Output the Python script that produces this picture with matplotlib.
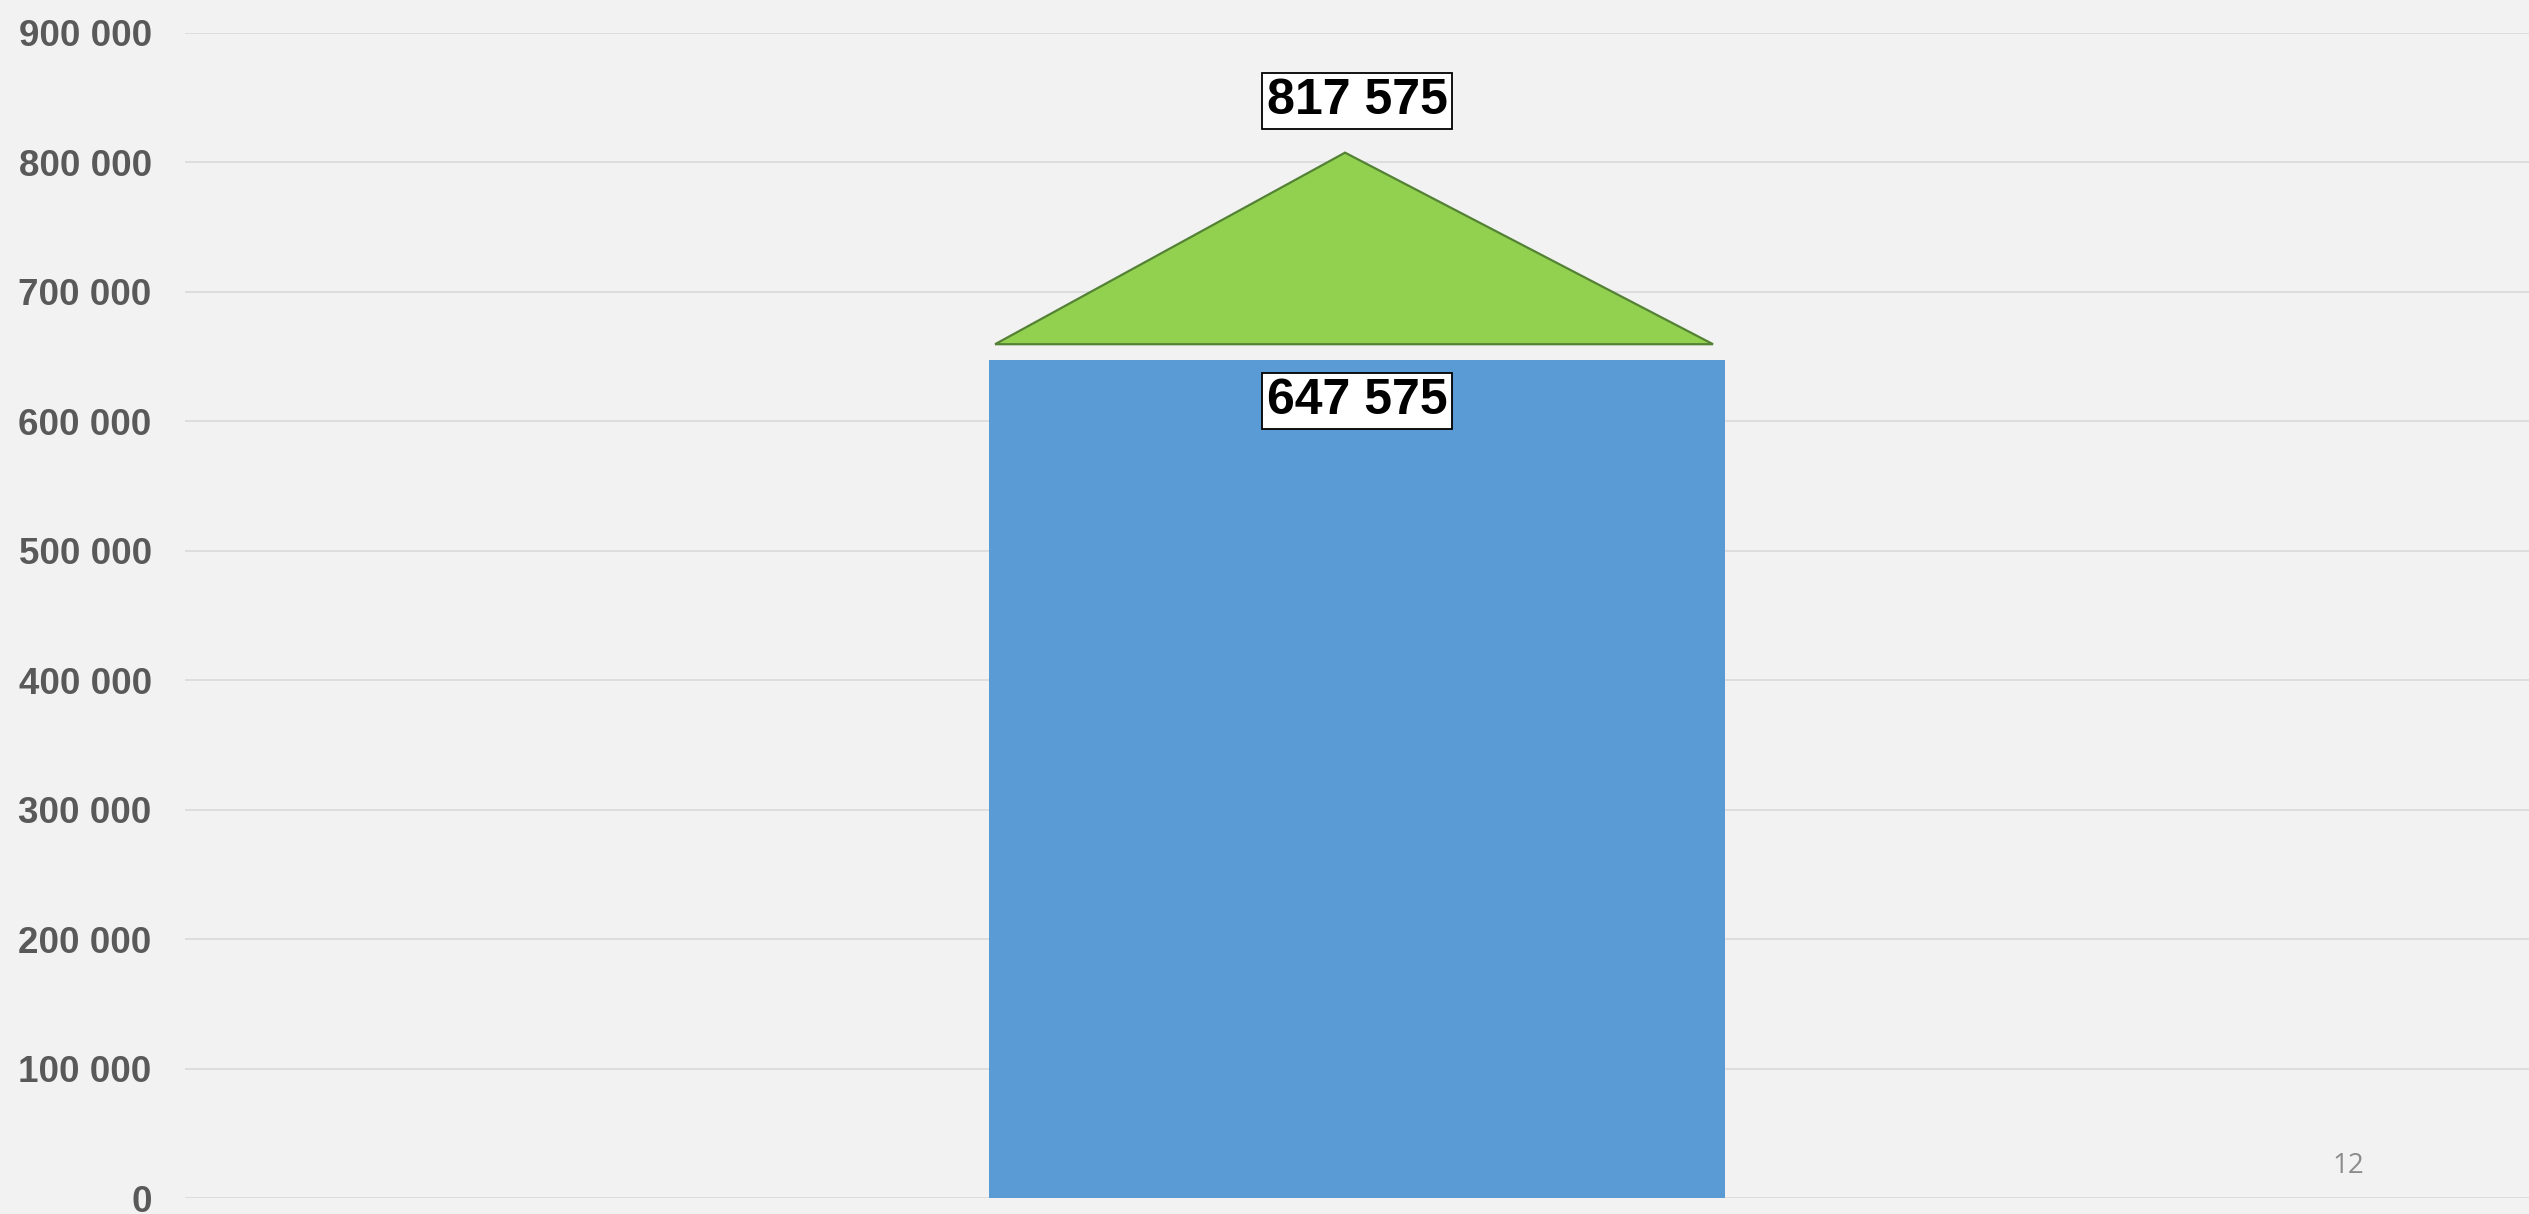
import matplotlib
matplotlib.use("Agg")
import matplotlib.pyplot as plt
from matplotlib.patches import Polygon

# ---- data ----
categories = ["Total"]
base_values = [647575]
total_values = [817575]
y_ticks = [0, 100000, 200000, 300000, 400000, 500000, 600000, 700000, 800000, 900000]
page_number = "12"

def fmt(v):
    return f"{v:,}".replace(",", " ")

W, H, DPI = 2529, 1214, 100
fig = plt.figure(figsize=(W / DPI, H / DPI), dpi=DPI, facecolor="#F2F2F2")
ax = fig.add_axes([185 / W, 16 / H, (W - 185) / W, (1198 - 33) / H])
ax.set_facecolor("#F2F2F2")

x = list(range(len(categories)))
bar_w = 0.314
ax.bar(x, base_values, width=bar_w, color="#5B9BD5", zorder=2)

for xi, b, t in zip(x, base_values, total_values):
    # increase shape (triangle) sitting above the bar
    base_y = b + 12000
    apex_y = t - 10000
    tri = Polygon([[xi - 0.1544, base_y], [xi + 0.1519, base_y], [xi - 0.0051, apex_y]],
                  closed=True, facecolor="#92D050", edgecolor="#548235",
                  linewidth=1.6, zorder=3)
    ax.add_patch(tri)
    box = dict(boxstyle="square,pad=0.1", facecolor="white", edgecolor="black", linewidth=1.3)
    ax.text(xi, t + 30000, fmt(t), ha="center", va="center", fontsize=36,
            fontweight="bold", family="Liberation Sans", color="black", bbox=box, zorder=5)
    ax.text(xi, b - 31500, fmt(b), ha="center", va="center", fontsize=36,
            fontweight="bold", family="Liberation Sans", color="black", bbox=box, zorder=5)

ax.set_xlim(-0.5, 0.5)
ax.set_ylim(0, 900000)
ax.set_yticks(y_ticks)
ax.set_yticklabels([fmt(v) for v in y_ticks], fontsize=26.5, fontweight="bold",
                   family="Liberation Sans", color="#595959")
ax.tick_params(axis="y", length=0, pad=24)
ax.set_xticks([])
ax.yaxis.grid(True, color="#D9D9D9", linewidth=1.2, zorder=0)
ax.set_axisbelow(True)
for s in ax.spines.values():
    s.set_visible(False)

fig.text(2348 / W, (H - 1166) / H, page_number, ha="center", va="center",
         fontsize=20, family="Open Sans", color="#8C8C8C")

fig.savefig("out.png", dpi=DPI, facecolor=fig.get_facecolor())
